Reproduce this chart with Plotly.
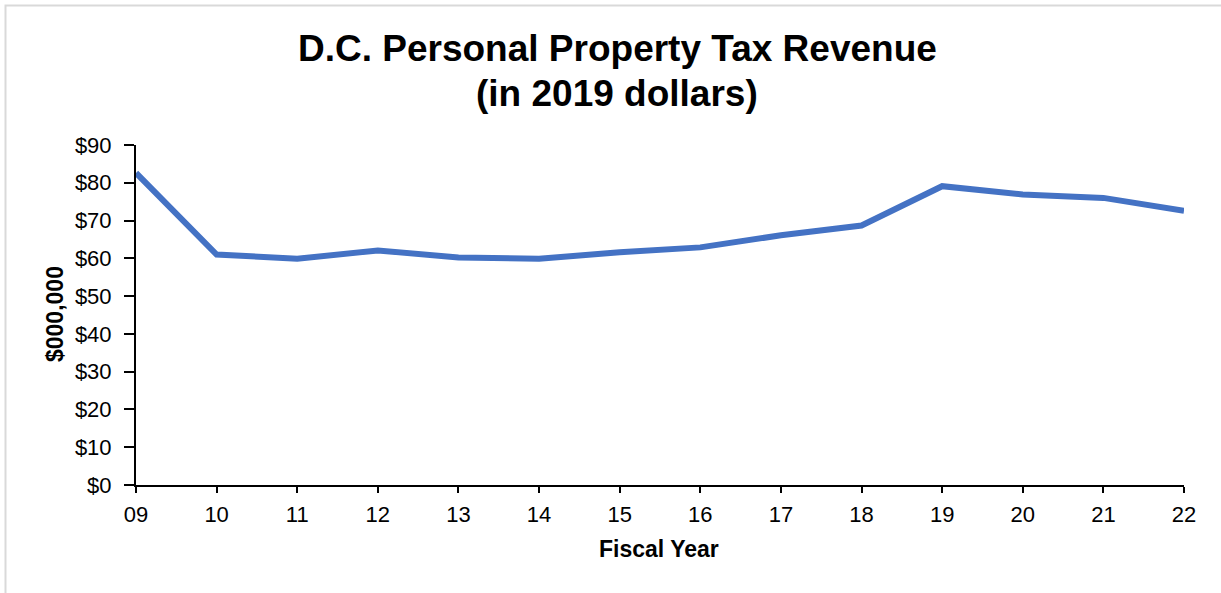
import plotly.graph_objects as go

# Fiscal years (two-digit labels) and revenue in millions of 2019 dollars
fiscal_years = ["09", "10", "11", "12", "13", "14", "15", "16", "17", "18", "19", "20", "21", "22"]
revenue = [82.6, 61.0, 59.9, 62.1, 60.2, 59.9, 61.6, 62.9, 66.1, 68.7, 79.1, 76.9, 76.0, 72.6]
y_ticks = [0, 10, 20, 30, 40, 50, 60, 70, 80, 90]
y_tick_labels = ["$0", "$10", "$20", "$30", "$40", "$50", "$60", "$70", "$80", "$90"]

W, H = 1221, 593
L, R, T, B = 136, 37, 145, 108
pw, ph = W - L - R, H - T - B

def px_x(x):
    return (x - L) / pw

def px_y(y):
    return (H - B - y) / ph

FONT = "Liberation Sans, Arial, sans-serif"

fig = go.Figure()
fig.add_trace(go.Scatter(
    x=fiscal_years, y=revenue, mode="lines",
    line=dict(color="#4472C4", width=6, shape="linear"),
    hoverinfo="x+y", showlegend=False,
))

fig.update_layout(
    width=W, height=H,
    margin=dict(l=L, r=R, t=T, b=B, autoexpand=False),
    paper_bgcolor="white", plot_bgcolor="white",
    font=dict(family=FONT, color="black", size=22),
    xaxis=dict(
        type="category", range=[0, len(fiscal_years) - 1],
        showline=True, linecolor="black", linewidth=2,
        ticks="outside", ticklen=6, tickwidth=2, tickcolor="black",
        showgrid=False, zeroline=False,
        tickfont=dict(size=22, family=FONT), ticklabelstandoff=3,
    ),
    yaxis=dict(
        range=[0, 90], tickvals=y_ticks, ticktext=y_tick_labels,
        showline=True, linecolor="black", linewidth=2,
        ticks="outside", ticklen=10, tickwidth=2, tickcolor="black",
        showgrid=False, zeroline=False,
        tickfont=dict(size=22, family=FONT), ticklabelstandoff=8,
    ),
    shapes=[dict(
        type="rect", xref="paper", yref="paper",
        x0=px_x(5.5), x1=px_x(1240), y0=px_y(610), y1=px_y(5.5),
        line=dict(color="#d9d9d9", width=2), fillcolor="rgba(0,0,0,0)", layer="below",
    )],
    annotations=[
        dict(text="<b>D.C. Personal Property Tax Revenue</b>", xref="paper", yref="paper",
             x=px_x(617), y=px_y(49), showarrow=False, xanchor="center", yanchor="middle",
             font=dict(size=37, family=FONT)),
        dict(text="<b>(in 2019 dollars)</b>", xref="paper", yref="paper",
             x=px_x(617), y=px_y(93), showarrow=False, xanchor="center", yanchor="middle",
             font=dict(size=37, family=FONT)),
        dict(text="<b>Fiscal Year</b>", xref="paper", yref="paper",
             x=px_x(659), y=px_y(549), showarrow=False, xanchor="center", yanchor="middle",
             font=dict(size=23, family=FONT)),
        dict(text="<b>$000,000</b>", xref="paper", yref="paper",
             x=px_x(55), y=px_y(314), showarrow=False, xanchor="center", yanchor="middle",
             textangle=-90, font=dict(size=23, family=FONT)),
    ],
)

fig.write_html("out.html")
